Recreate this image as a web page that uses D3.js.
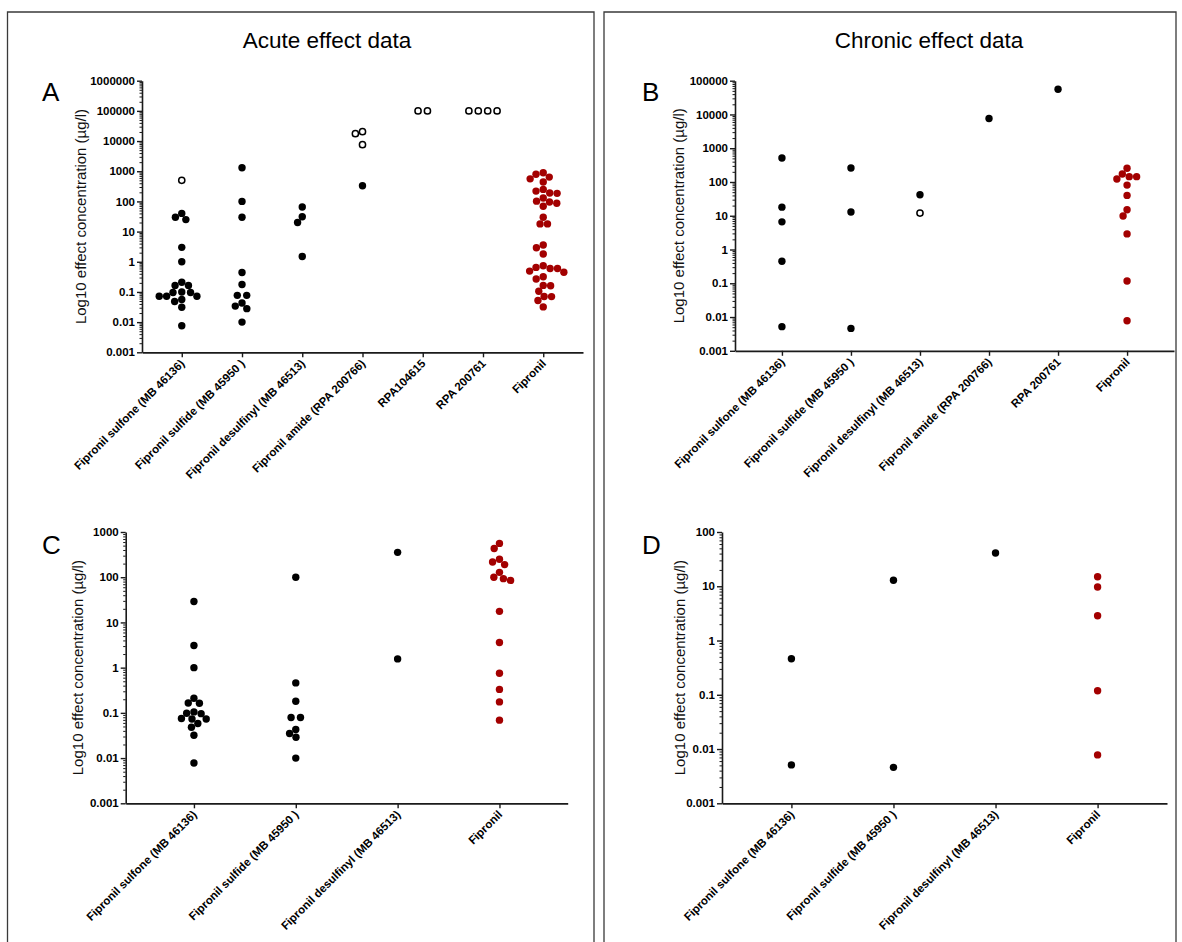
<!DOCTYPE html>
<html>
<head>
<meta charset="utf-8">
<script src="https://cdn.jsdelivr.net/npm/d3@7"></script>
<style>
  html, body { margin: 0; padding: 0; background: #fff; }
  svg { display: block; font-family: "Liberation Sans", Arial, sans-serif; }
</style>
</head>
<body>
<svg id="chart" width="1182" height="942"></svg>
<script>
// ---------------- DATA ----------------
const acuteCategories = ["Fipronil sulfone (MB 46136)", "Fipronil sulfide (MB 45950 )", "Fipronil desulfinyl (MB 46513)", "Fipronil amide (RPA 200766)", "RPA104615", "RPA 200761", "Fipronil"];
const chronicCategories = ["Fipronil sulfone (MB 46136)", "Fipronil sulfide (MB 45950 )", "Fipronil desulfinyl (MB 46513)", "Fipronil amide (RPA 200766)", "RPA 200761", "Fipronil"];
const subsetCategories = ["Fipronil sulfone (MB 46136)", "Fipronil sulfide (MB 45950 )", "Fipronil desulfinyl (MB 46513)", "Fipronil"];

const yTickLabelsA = ["0.001", "0.01", "0.1", "1", "10", "100", "1000", "10000", "100000", "1000000"];
const yTickLabelsB = ["0.001", "0.01", "0.1", "1", "10", "100", "1000", "10000", "100000"];
const yTickLabelsC = ["0.001", "0.01", "0.1", "1", "10", "100", "1000"];
const yTickLabelsD = ["0.001", "0.01", "0.1", "1", "10", "100"];

// Panel A (acute, all compounds)
const acuteSulfone = [40, 25, 30, 3, 1, 0.165, 0.165, 0.21, 0.096, 0.072, 0.072, 0.072, 0.096, 0.1, 0.048, 0.056, 0.031, 0.0076];
const acuteSulfoneOpen = [500];
const acuteSulfide = [1300, 100, 30, 0.44, 0.177, 0.077, 0.077, 0.034, 0.043, 0.028, 0.01];
const acuteDesulfinyl = [65, 31, 20, 1.5];
const acuteAmide = [330];
const acuteAmideOpen = [17500, 20400, 7600];
const acuteRPA104615Open = [100000, 100000];
const acuteRPA200761Open = [100000, 100000, 100000, 100000];
const acuteFipronil = [890, 640, 790, 440, 560, 250, 190, 185, 220, 130, 96, 69, 87, 102, 30, 18, 18, 3.6, 2.9, 1.8, 0.74, 0.6, 0.49, 0.45, 0.6, 0.65, 0.27, 0.32, 0.16, 0.165, 0.105, 0.071, 0.07, 0.052, 0.032];

// Panel B (chronic, all compounds)
const chronicSulfone = [516, 18, 6.6, 0.45, 0.0052];
const chronicSulfide = [260, 12.9, 0.0046];
const chronicDesulfinyl = [42];
const chronicDesulfinylOpen = [12];
const chronicAmide = [7600];
const chronicRPA200761 = [56000];
const chronicFipronil = [255, 144, 173, 123, 144, 81, 40, 15, 9.8, 2.9, 0.117, 0.0078];

// Panel C (acute, subset)
const subAcuteSulfone = [29, 3.1, 1.0, 0.21, 0.163, 0.165, 0.098, 0.096, 0.105, 0.073, 0.073, 0.075, 0.058, 0.048, 0.032, 0.0078];
const subAcuteSulfide = [100, 0.46, 0.18, 0.079, 0.079, 0.035, 0.043, 0.029, 0.01];
const subAcuteDesulfinyl = [355, 1.56];
const subAcuteFipronil = [560, 430, 217, 190, 249, 100, 85, 93, 128, 17.6, 3.6, 0.75, 0.33, 0.175, 0.069];

// Panel D (chronic, subset)
const subChronicSulfone = [0.46, 0.0051];
const subChronicSulfide = [12.9, 0.0046];
const subChronicDesulfinyl = [41];
const subChronicFipronil = [15, 9.7, 2.87, 0.119, 0.0078];

const yAxisTitle = "Log10 effect concentration (µg/l)";
const titles = ["Acute effect data", "Chronic effect data"];

// ---------------- STYLE / LAYOUT ----------------
const BLACK = "#000000";
const RED = "#a30000";
const AXIS = "#1a1a1a";
const R = 3.7;          // filled dot radius
const RO = 3.1;         // open dot radius
const COLLIDE = 7.4;    // beeswarm collision distance
const TIE = 9.4;        // spacing of identical-value rows
const FONT = "'Liberation Sans', Arial, sans-serif";

const panels = [
  { letter: "A", ax: 142, ay0: 80.7, ay1: 352.3, axEnd: 583, domain: [0.001, 1e6], labels: yTickLabelsA,
    cats: acuteCategories, pad: 0.66, titleX: 86, letterX: 42, letterY: 101,
    series: [
      { cat: 0, values: acuteSulfone, open: false, color: BLACK },
      { cat: 0, values: acuteSulfoneOpen, open: true, color: BLACK },
      { cat: 1, values: acuteSulfide, open: false, color: BLACK },
      { cat: 2, values: acuteDesulfinyl, open: false, color: BLACK },
      { cat: 3, values: acuteAmide, open: false, color: BLACK },
      { cat: 3, values: acuteAmideOpen, open: true, color: BLACK },
      { cat: 4, values: acuteRPA104615Open, open: true, color: BLACK },
      { cat: 5, values: acuteRPA200761Open, open: true, color: BLACK },
      { cat: 6, values: acuteFipronil, open: false, color: RED }
    ] },
  { letter: "B", ax: 735, ay0: 80.7, ay1: 350.8, axEnd: 1174, domain: [0.001, 1e5], labels: yTickLabelsB,
    cats: chronicCategories, pad: 0.68, titleX: 684, letterX: 642, letterY: 101,
    series: [
      { cat: 0, values: chronicSulfone, open: false, color: BLACK },
      { cat: 1, values: chronicSulfide, open: false, color: BLACK },
      { cat: 2, values: chronicDesulfinyl, open: false, color: BLACK },
      { cat: 2, values: chronicDesulfinylOpen, open: true, color: BLACK },
      { cat: 3, values: chronicAmide, open: false, color: BLACK },
      { cat: 4, values: chronicRPA200761, open: false, color: BLACK },
      { cat: 5, values: chronicFipronil, open: false, color: RED }
    ] },
  { letter: "C", ax: 125.7, ay0: 532, ay1: 803.3, axEnd: 567.7, domain: [0.001, 1000], labels: yTickLabelsC,
    cats: subsetCategories, pad: 0.67, titleX: 83, letterX: 42, letterY: 554,
    series: [
      { cat: 0, values: subAcuteSulfone, open: false, color: BLACK },
      { cat: 1, values: subAcuteSulfide, open: false, color: BLACK },
      { cat: 2, values: subAcuteDesulfinyl, open: false, color: BLACK },
      { cat: 3, values: subAcuteFipronil, open: false, color: RED }
    ] },
  { letter: "D", ax: 722, ay0: 532, ay1: 803.3, axEnd: 1167, domain: [0.001, 100], labels: yTickLabelsD,
    cats: subsetCategories, pad: 0.68, titleX: 685, letterX: 642, letterY: 554,
    series: [
      { cat: 0, values: subChronicSulfone, open: false, color: BLACK },
      { cat: 1, values: subChronicSulfide, open: false, color: BLACK },
      { cat: 2, values: subChronicDesulfinyl, open: false, color: BLACK },
      { cat: 3, values: subChronicFipronil, open: false, color: RED }
    ] }
];

// ---------------- DRAW ----------------
const svg = d3.select("#chart");

// frames
const frame = svg.append("g").attr("fill", "none").attr("stroke", "#3a3a3a").attr("stroke-width", 1.3);
frame.append("path").attr("d", "M7.5,960 V12 H594 V960");
frame.append("path").attr("d", "M604,960 V12 H1176 V960");

// titles
svg.append("text").attr("x", 327).attr("y", 48).attr("text-anchor", "middle")
  .attr("font-size", 22.5).text(titles[0]);
svg.append("text").attr("x", 929).attr("y", 48).attr("text-anchor", "middle")
  .attr("font-size", 22.5).text(titles[1]);

function beeswarm(points) {
  const order = points.slice().sort((a, b) => a.y - b.y || a.idx - b.idx);
  const placed = [];
  for (const p of order) {
    const cands = [0];
    for (const q of placed) {
      const dy = Math.abs(q.y - p.y);
      if (dy < COLLIDE) {
        const w = Math.sqrt(COLLIDE * COLLIDE - dy * dy);
        cands.push(q.dx + w, q.dx - w);
      }
    }
    cands.sort((a, b) => Math.abs(a) - Math.abs(b) || a - b);
    p.dx = 0;
    for (const c of cands) {
      if (placed.every(q => (q.dx - c) ** 2 + (q.y - p.y) ** 2 >= COLLIDE * COLLIDE - 0.01)) { p.dx = c; break; }
    }
    placed.push(p);
  }
  // identical-value rows that stand alone are centred symmetrically
  const groups = d3.group(points, p => p.v);
  for (const [v, g] of groups) {
    if (g.length < 2) continue;
    const others = points.filter(p => p.v !== v && Math.abs(p.y - g[0].y) < COLLIDE);
    if (others.length) continue;
    g.forEach((p, i) => { p.dx = (i - (g.length - 1) / 2) * TIE; });
  }
  return points;
}

panels.forEach(P => {
  const g = svg.append("g");
  const y = d3.scaleLog().domain(P.domain).range([P.ay1, P.ay0]);
  const x = d3.scalePoint().domain(P.cats).range([P.ax, P.axEnd]).padding(P.pad);

  const kMin = Math.round(Math.log10(P.domain[0]));
  const kMax = Math.round(Math.log10(P.domain[1]));
  const majors = d3.range(kMin, kMax + 1).map(k => Math.pow(10, k));
  const minors = [];
  d3.range(kMin, kMax).forEach(k => { for (let m = 2; m <= 9; m++) minors.push(m * Math.pow(10, k)); });

  // minor ticks
  g.append("g").attr("transform", `translate(${P.ax},0)`)
    .call(d3.axisLeft(y).tickValues(minors).tickSize(2.5).tickFormat(() => "").tickSizeOuter(0))
    .call(s => s.select(".domain").remove())
    .call(s => s.selectAll("line").attr("stroke", AXIS).attr("stroke-width", 1));

  // major ticks + labels
  const yAx = g.append("g").attr("transform", `translate(${P.ax},0)`)
    .call(d3.axisLeft(y).tickValues(majors).tickSize(5).tickPadding(2).tickSizeOuter(0)
      .tickFormat((d, i) => P.labels[i]));
  yAx.select(".domain").attr("stroke", AXIS).attr("stroke-width", 1.6);
  yAx.selectAll(".tick line").attr("stroke", AXIS).attr("stroke-width", 1.4);
  yAx.selectAll("text").attr("font-family", FONT)
    .attr("font-size", 11.5).attr("font-weight", "bold").attr("fill", "#000");

  // x axis
  const xAx = g.append("g").attr("transform", `translate(0,${P.ay1})`)
    .call(d3.axisBottom(x).tickSize(5).tickSizeOuter(0));
  xAx.select(".domain").attr("stroke", AXIS).attr("stroke-width", 1.8);
  xAx.selectAll(".tick line").attr("stroke", AXIS).attr("stroke-width", 1.4);
  xAx.selectAll("text")
    .attr("x", 0).attr("y", 0).attr("dy", 0)
    .attr("transform", "translate(3,12) rotate(-45)")
    .attr("text-anchor", "end")
    .attr("font-family", FONT)
    .attr("font-size", 11.5).attr("font-weight", "bold").attr("fill", "#000");

  // y axis title
  g.append("text")
    .attr("transform", `translate(${P.titleX},${(P.ay0 + P.ay1) / 2}) rotate(-90)`)
    .attr("text-anchor", "middle").attr("font-size", 15).attr("fill", "#111")
    .text(yAxisTitle);

  // panel letter
  g.append("text").attr("x", P.letterX).attr("y", P.letterY)
    .attr("font-size", 26).attr("fill", "#000").text(P.letter);

  // points, grouped by category for the beeswarm layout
  const byCat = d3.group(
    P.series.flatMap((s, si) => s.values.map((v, vi) => ({ v, y: y(v), open: s.open, color: s.color, cat: s.cat, idx: si * 100 + vi }))),
    p => p.cat);
  for (const [cat, pts] of byCat) {
    beeswarm(pts);
    const cx = x(P.cats[cat]);
    g.selectAll(null).data(pts).join("circle")
      .attr("cx", d => cx + d.dx)
      .attr("cy", d => d.y)
      .attr("r", d => d.open ? RO : R)
      .attr("fill", d => d.open ? "#fff" : d.color)
      .attr("stroke", d => d.open ? d.color : "none")
      .attr("stroke-width", d => d.open ? 1.5 : 0);
  }
});
</script>
</body>
</html>
